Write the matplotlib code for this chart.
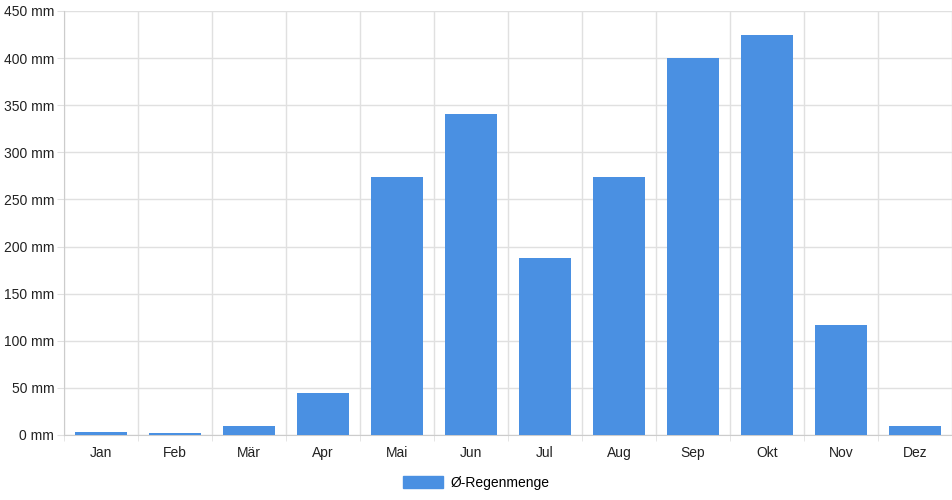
import matplotlib.pyplot as plt
import numpy as np
from matplotlib.patches import Patch

plt.rcParams['font.family'] = ['Liberation Sans', 'DejaVu Sans']

# monthly average rainfall (mm)
months = ['Jan', 'Feb', 'Mär', 'Apr', 'Mai', 'Jun', 'Jul', 'Aug', 'Sep', 'Okt', 'Nov', 'Dez']
rain = [2.8, 2.5, 9.2, 44.5, 274, 341, 188, 274, 400, 424, 117, 10]
series_label = 'Ø-Regenmenge'
yticks = [0, 50, 100, 150, 200, 250, 300, 350, 400, 450]

fig = plt.figure(figsize=(9.52, 5), dpi=100)
ax = fig.add_axes([64 / 952, 65 / 500, 888 / 952, 424 / 500])

x = np.arange(len(months))
ax.bar(x, rain, 0.7, color='#4a90e2', zorder=3)

ax.set_xlim(-0.5, len(months) - 0.5)
ax.set_ylim(0, 450)
ax.set_yticks(yticks)
ax.set_yticklabels([f'{v} mm' for v in yticks])
ax.set_xticks(x)
ax.set_xticklabels(months)

# grid lines sit on category boundaries
ax.set_xticks(np.arange(-0.5, len(months)), minor=True)
ax.grid(True, which='minor', axis='x', color='#e0e0e0', lw=1, zorder=0)
ax.grid(True, which='major', axis='y', color='#e0e0e0', lw=1, zorder=0)
ax.tick_params(axis='x', which='major', length=0, pad=8, labelsize=10, colors='#222222')
ax.tick_params(axis='x', which='minor', length=4.5, color='#e0e0e0')
ax.tick_params(axis='y', length=5, color='#e0e0e0', pad=2, labelsize=10, labelcolor='#222222')

for s in ['top', 'right']:
    ax.spines[s].set_visible(False)
ax.spines['left'].set_color('#cccccc')
ax.spines['bottom'].set_color('#cccccc')

fig.legend(handles=[Patch(color='#4a90e2', label=series_label)], loc='center',
           bbox_to_anchor=(0.5, 17 / 500), frameon=False, fontsize=10,
           handlelength=2.9, handleheight=1.0, handletextpad=0.5)

plt.savefig('out.png', dpi=100)
